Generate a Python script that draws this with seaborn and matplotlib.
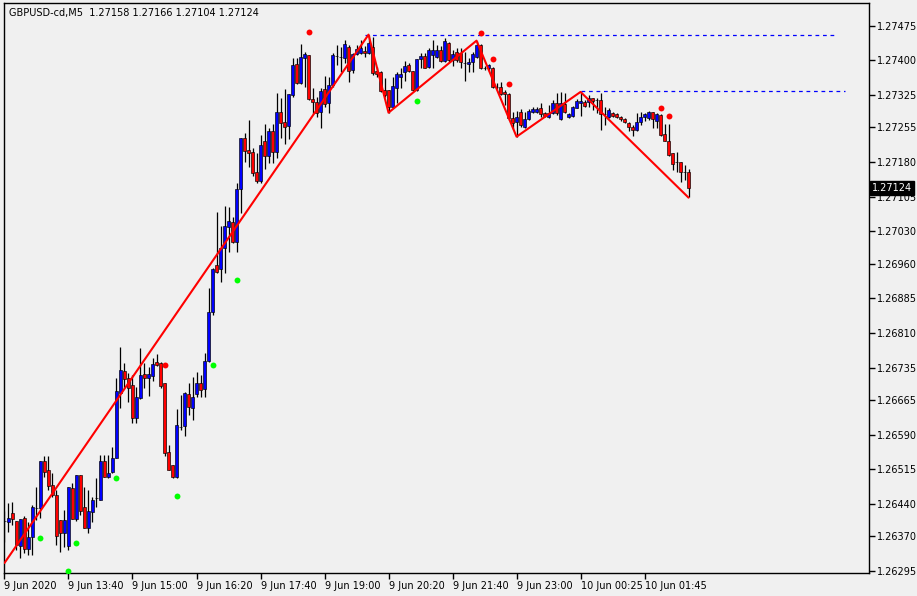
import numpy as np
import matplotlib
matplotlib.use("Agg")
import matplotlib.pyplot as plt
import matplotlib.transforms as mtransforms
import seaborn as sns

# GBPUSD M5 bars, 9 Jun 2020 12:20 onwards
opens = [1.26403, 1.26401, 1.26420, 1.26403, 1.26349, 1.26409, 1.26342, 1.26368, 1.26431, 1.26431,
         1.26533, 1.26513, 1.26481, 1.26459, 1.26405, 1.26377, 1.26349, 1.26474, 1.26407, 1.26503,
         1.26433, 1.26388, 1.26422, 1.26453, 1.26448, 1.26533, 1.26498, 1.26509, 1.26539, 1.26680,
         1.26728, 1.26713, 1.26697, 1.26626, 1.26669, 1.26721, 1.26713, 1.26717, 1.26747, 1.26745,
         1.26702, 1.26552, 1.26524, 1.26498, 1.26606, 1.26609, 1.26678, 1.26648, 1.26678, 1.26702,
         1.26689, 1.26749, 1.26856, 1.26957, 1.26949, 1.26994, 1.27040, 1.27050, 1.27007, 1.27122,
         1.27232, 1.27206, 1.27202, 1.27159, 1.27139, 1.27226, 1.27193, 1.27247, 1.27202, 1.27288,
         1.27267, 1.27258, 1.27325, 1.27392, 1.27351, 1.27405, 1.27412, 1.27317, 1.27310, 1.27288,
         1.27338, 1.27308, 1.27347, 1.27410, 1.27408, 1.27405, 1.27429, 1.27379, 1.27414, 1.27416,
         1.27421, 1.27416, 1.27429, 1.27377, 1.27375, 1.27336, 1.27336, 1.27299, 1.27340, 1.27364,
         1.27375, 1.27390, 1.27377, 1.27336, 1.27403, 1.27410, 1.27386, 1.27412, 1.27408, 1.27423,
         1.27399, 1.27438, 1.27401, 1.27418, 1.27416, 1.27395, 1.27392, 1.27397, 1.27408, 1.27434,
         1.27384, 1.27384, 1.27384, 1.27343, 1.27343, 1.27332, 1.27327, 1.27275, 1.27267, 1.27288,
         1.27256, 1.27273, 1.27288, 1.27288, 1.27297, 1.27286, 1.27278, 1.27286, 1.27308, 1.27273,
         1.27306, 1.27278, 1.27280, 1.27297, 1.27308, 1.27310, 1.27310, 1.27319, 1.27314, 1.27314,
         1.27284, 1.27278, 1.27286, 1.27284, 1.27278, 1.27273, 1.27265, 1.27256, 1.27249, 1.27267,
         1.27278, 1.27275, 1.27288, 1.27269, 1.27282, 1.27241, 1.27226, 1.27200, 1.27180, 1.27180,
         1.27159, 1.27158]
highs = [1.26425, 1.26442, 1.26444, 1.26403, 1.26407, 1.26414, 1.26401, 1.26438, 1.26477, 1.26533,
         1.26544, 1.26544, 1.26507, 1.26470, 1.26405, 1.26427, 1.26477, 1.26485, 1.26503, 1.26503,
         1.26477, 1.26470, 1.26455, 1.26496, 1.26546, 1.26546, 1.26546, 1.26563, 1.26713, 1.26780,
         1.26745, 1.26723, 1.26719, 1.26693, 1.26778, 1.26745, 1.26736, 1.26756, 1.26765, 1.26747,
         1.26702, 1.26568, 1.26524, 1.26645, 1.26676, 1.26682, 1.26702, 1.26715, 1.26726, 1.26719,
         1.26767, 1.26907, 1.26951, 1.27072, 1.27042, 1.27085, 1.27083, 1.27061, 1.27135, 1.27232,
         1.27243, 1.27271, 1.27211, 1.27200, 1.27239, 1.27262, 1.27254, 1.27262, 1.27330, 1.27319,
         1.27338, 1.27327, 1.27405, 1.27405, 1.27436, 1.27418, 1.27412, 1.27340, 1.27321, 1.27340,
         1.27366, 1.27364, 1.27416, 1.27434, 1.27429, 1.27444, 1.27434, 1.27416, 1.27434, 1.27444,
         1.27431, 1.27455, 1.27451, 1.27386, 1.27377, 1.27362, 1.27336, 1.27364, 1.27375, 1.27384,
         1.27399, 1.27395, 1.27377, 1.27403, 1.27416, 1.27416, 1.27427, 1.27444, 1.27434, 1.27431,
         1.27449, 1.27440, 1.27423, 1.27427, 1.27427, 1.27418, 1.27405, 1.27418, 1.27442, 1.27436,
         1.27388, 1.27392, 1.27386, 1.27351, 1.27353, 1.27336, 1.27330, 1.27288, 1.27291, 1.27295,
         1.27288, 1.27295, 1.27299, 1.27299, 1.27308, 1.27288, 1.27304, 1.27314, 1.27330, 1.27332,
         1.27330, 1.27286, 1.27301, 1.27317, 1.27332, 1.27314, 1.27325, 1.27319, 1.27319, 1.27330,
         1.27299, 1.27297, 1.27288, 1.27286, 1.27280, 1.27275, 1.27267, 1.27260, 1.27286, 1.27288,
         1.27286, 1.27291, 1.27288, 1.27286, 1.27284, 1.27262, 1.27262, 1.27200, 1.27202, 1.27180,
         1.27174, 1.27166]
lows = [1.26358, 1.26379, 1.26394, 1.26340, 1.26323, 1.26334, 1.26329, 1.26329, 1.26405, 1.26409,
        1.26498, 1.26470, 1.26455, 1.26351, 1.26336, 1.26347, 1.26340, 1.26407, 1.26403, 1.26416,
        1.26388, 1.26377, 1.26401, 1.26433, 1.26448, 1.26498, 1.26496, 1.26507, 1.26539, 1.26648,
        1.26691, 1.26661, 1.26615, 1.26615, 1.26667, 1.26691, 1.26674, 1.26706, 1.26739, 1.26691,
        1.26544, 1.26513, 1.26496, 1.26496, 1.26600, 1.26587, 1.26632, 1.26622, 1.26671, 1.26671,
        1.26671, 1.26747, 1.26849, 1.26940, 1.26920, 1.26940, 1.26985, 1.27005, 1.26985, 1.27070,
        1.27180, 1.27169, 1.27150, 1.27135, 1.27135, 1.27165, 1.27178, 1.27178, 1.27189, 1.27232,
        1.27219, 1.27230, 1.27321, 1.27349, 1.27349, 1.27343, 1.27314, 1.27284, 1.27278, 1.27254,
        1.27299, 1.27286, 1.27343, 1.27390, 1.27375, 1.27395, 1.27353, 1.27373, 1.27412, 1.27414,
        1.27408, 1.27414, 1.27369, 1.27364, 1.27332, 1.27321, 1.27286, 1.27297, 1.27308, 1.27340,
        1.27356, 1.27375, 1.27334, 1.27334, 1.27384, 1.27384, 1.27384, 1.27384, 1.27405, 1.27397,
        1.27397, 1.27397, 1.27388, 1.27397, 1.27384, 1.27356, 1.27375, 1.27375, 1.27405, 1.27382,
        1.27379, 1.27377, 1.27340, 1.27338, 1.27325, 1.27304, 1.27271, 1.27252, 1.27234, 1.27256,
        1.27254, 1.27271, 1.27286, 1.27286, 1.27278, 1.27278, 1.27275, 1.27284, 1.27282, 1.27271,
        1.27286, 1.27275, 1.27278, 1.27297, 1.27280, 1.27299, 1.27299, 1.27293, 1.27286, 1.27249,
        1.27260, 1.27275, 1.27278, 1.27275, 1.27269, 1.27265, 1.27247, 1.27236, 1.27247, 1.27260,
        1.27269, 1.27271, 1.27254, 1.27254, 1.27236, 1.27226, 1.27193, 1.27163, 1.27159, 1.27137,
        1.27141, 1.27104]
closes = [1.26403, 1.26409, 1.26407, 1.26351, 1.26407, 1.26342, 1.26368, 1.26433, 1.26431, 1.26533,
          1.26509, 1.26479, 1.26459, 1.26371, 1.26377, 1.26405, 1.26477, 1.26407, 1.26503, 1.26425,
          1.26388, 1.26425, 1.26448, 1.26453, 1.26533, 1.26498, 1.26507, 1.26539, 1.26684, 1.26730,
          1.26710, 1.26691, 1.26626, 1.26671, 1.26719, 1.26713, 1.26721, 1.26743, 1.26741, 1.26695,
          1.26550, 1.26513, 1.26498, 1.26611, 1.26606, 1.26680, 1.26650, 1.26671, 1.26702, 1.26687,
          1.26749, 1.26856, 1.26949, 1.26942, 1.26994, 1.27042, 1.27053, 1.27007, 1.27122, 1.27232,
          1.27204, 1.27200, 1.27156, 1.27139, 1.27217, 1.27193, 1.27247, 1.27202, 1.27288, 1.27265,
          1.27256, 1.27327, 1.27390, 1.27351, 1.27408, 1.27414, 1.27317, 1.27310, 1.27286, 1.27334,
          1.27306, 1.27347, 1.27412, 1.27410, 1.27408, 1.27436, 1.27377, 1.27414, 1.27425, 1.27427,
          1.27416, 1.27438, 1.27373, 1.27371, 1.27334, 1.27325, 1.27299, 1.27345, 1.27371, 1.27371,
          1.27388, 1.27377, 1.27336, 1.27403, 1.27410, 1.27384, 1.27423, 1.27423, 1.27423, 1.27399,
          1.27442, 1.27401, 1.27414, 1.27401, 1.27397, 1.27395, 1.27397, 1.27414, 1.27434, 1.27384,
          1.27384, 1.27390, 1.27343, 1.27343, 1.27327, 1.27327, 1.27275, 1.27265, 1.27278, 1.27260,
          1.27273, 1.27291, 1.27295, 1.27295, 1.27284, 1.27280, 1.27286, 1.27308, 1.27286, 1.27308,
          1.27288, 1.27284, 1.27299, 1.27312, 1.27312, 1.27301, 1.27319, 1.27312, 1.27314, 1.27284,
          1.27284, 1.27293, 1.27280, 1.27278, 1.27273, 1.27267, 1.27256, 1.27249, 1.27267, 1.27278,
          1.27284, 1.27288, 1.27273, 1.27284, 1.27239, 1.27226, 1.27195, 1.27176, 1.27180, 1.27159,
          1.27159, 1.27124]

# zigzag swing points (bar, price)
zz_bars = [0, 91, 96, 118, 128, 144, 171]
zz_prices = [1.26312, 1.27456, 1.27287, 1.27443, 1.27235, 1.27332, 1.27103]

# fractal dots
up_bars = [9, 16, 18, 28, 43, 52, 58, 103]
up_prices = [1.26366, 1.26295, 1.26356, 1.26496, 1.26457, 1.26741, 1.26925, 1.27313]
down_bars = [40, 76, 119, 122, 126, 164, 166]
down_prices = [1.26741, 1.27462, 1.27460, 1.27404, 1.27349, 1.27297, 1.27280]

# horizontal levels
lvl_prices = [1.27456, 1.27334]
lvl_start = [90, 144]
lvl_end = [208, 210]

ytick_vals = [1.27475, 1.27400, 1.27325, 1.27255, 1.27180, 1.27105, 1.27030, 1.26960,
              1.26885, 1.26810, 1.26735, 1.26665, 1.26590, 1.26515, 1.26440, 1.26370, 1.26295]
xtick_bars = [0, 16, 32, 48, 64, 80, 96, 112, 128, 144, 160]
xtick_labels = ["9 Jun 2020", "9 Jun 13:40", "9 Jun 15:00", "9 Jun 16:20", "9 Jun 17:40",
                "9 Jun 19:00", "9 Jun 20:20", "9 Jun 21:40", "9 Jun 23:00", "10 Jun 00:25",
                "10 Jun 01:45"]

sns.set_style("white")
plt.rcParams["font.family"] = ["DejaVu Sans"]

bg = "#f0f0f0"
fig = plt.figure(figsize=(9.17, 5.96), dpi=100, facecolor=bg)
ax = fig.add_axes([4 / 917, 23 / 596, 865 / 917, 570 / 596])
ax.set_facecolor(bg)

o = np.array(opens)
c = np.array(closes)
x = np.arange(len(c))
body_col = np.where(c > o, "#0000ff", np.where(c < o, "#ff0000", "black"))

ax.vlines(x, lows, highs, color="black", lw=0.9, zorder=2)
ax.bar(x, np.abs(c - o), bottom=np.minimum(o, c), width=0.66, color=body_col,
       edgecolor="black", linewidth=0.45, zorder=3)

ax.hlines(lvl_prices, lvl_start, lvl_end, colors="#0000ff", linestyles=(0, (3, 3)),
          lw=0.9, zorder=2)

sns.lineplot(x=zz_bars, y=zz_prices, sort=False, estimator=None, color="#ff0000",
             lw=1.5, ax=ax, zorder=4)
sns.scatterplot(x=up_bars, y=up_prices, color="#00ff00", s=18, linewidth=0, ax=ax, zorder=5)
sns.scatterplot(x=down_bars, y=down_prices, color="#ff0000", s=18, linewidth=0, ax=ax, zorder=5)

ax.set_xlim(-0.12, 216.1)
ax.set_ylim(1.262903, 1.275245)

ax.yaxis.tick_right()
ax.set_yticks(ytick_vals)
ax.set_yticklabels(["%.5f" % v for v in ytick_vals])
ax.set_xticks(xtick_bars)
ax.set_xticklabels(xtick_labels)
for lab in ax.get_xticklabels():
    lab.set_ha("left")
ax.tick_params(axis="both", direction="out", length=4, width=1, labelsize=7,
               colors="black", pad=2)
ax.tick_params(axis="y", right=True, left=False)
ax.tick_params(axis="x", bottom=True)
ax.set_xlabel("")
ax.set_ylabel("")
for s in ax.spines.values():
    s.set_color("black")
    s.set_linewidth(1)

ax.text(0.006, 0.992, "%s  %.5f %.5f %.5f %.5f" % ("GBPUSD-cd,M5", opens[-1], highs[-1], lows[-1], closes[-1]),
        transform=ax.transAxes, va="top", ha="left", fontsize=7, color="black")

trans = mtransforms.blended_transform_factory(ax.transAxes, ax.transData)
ax.text(1.003, closes[-1], "%.5f" % closes[-1], transform=trans, va="center", ha="left",
        fontsize=7, color="white", clip_on=False, zorder=10,
        bbox=dict(boxstyle="square,pad=0.2", fc="black", ec="black"))

fig.savefig("out.png", dpi=100, facecolor=bg)
